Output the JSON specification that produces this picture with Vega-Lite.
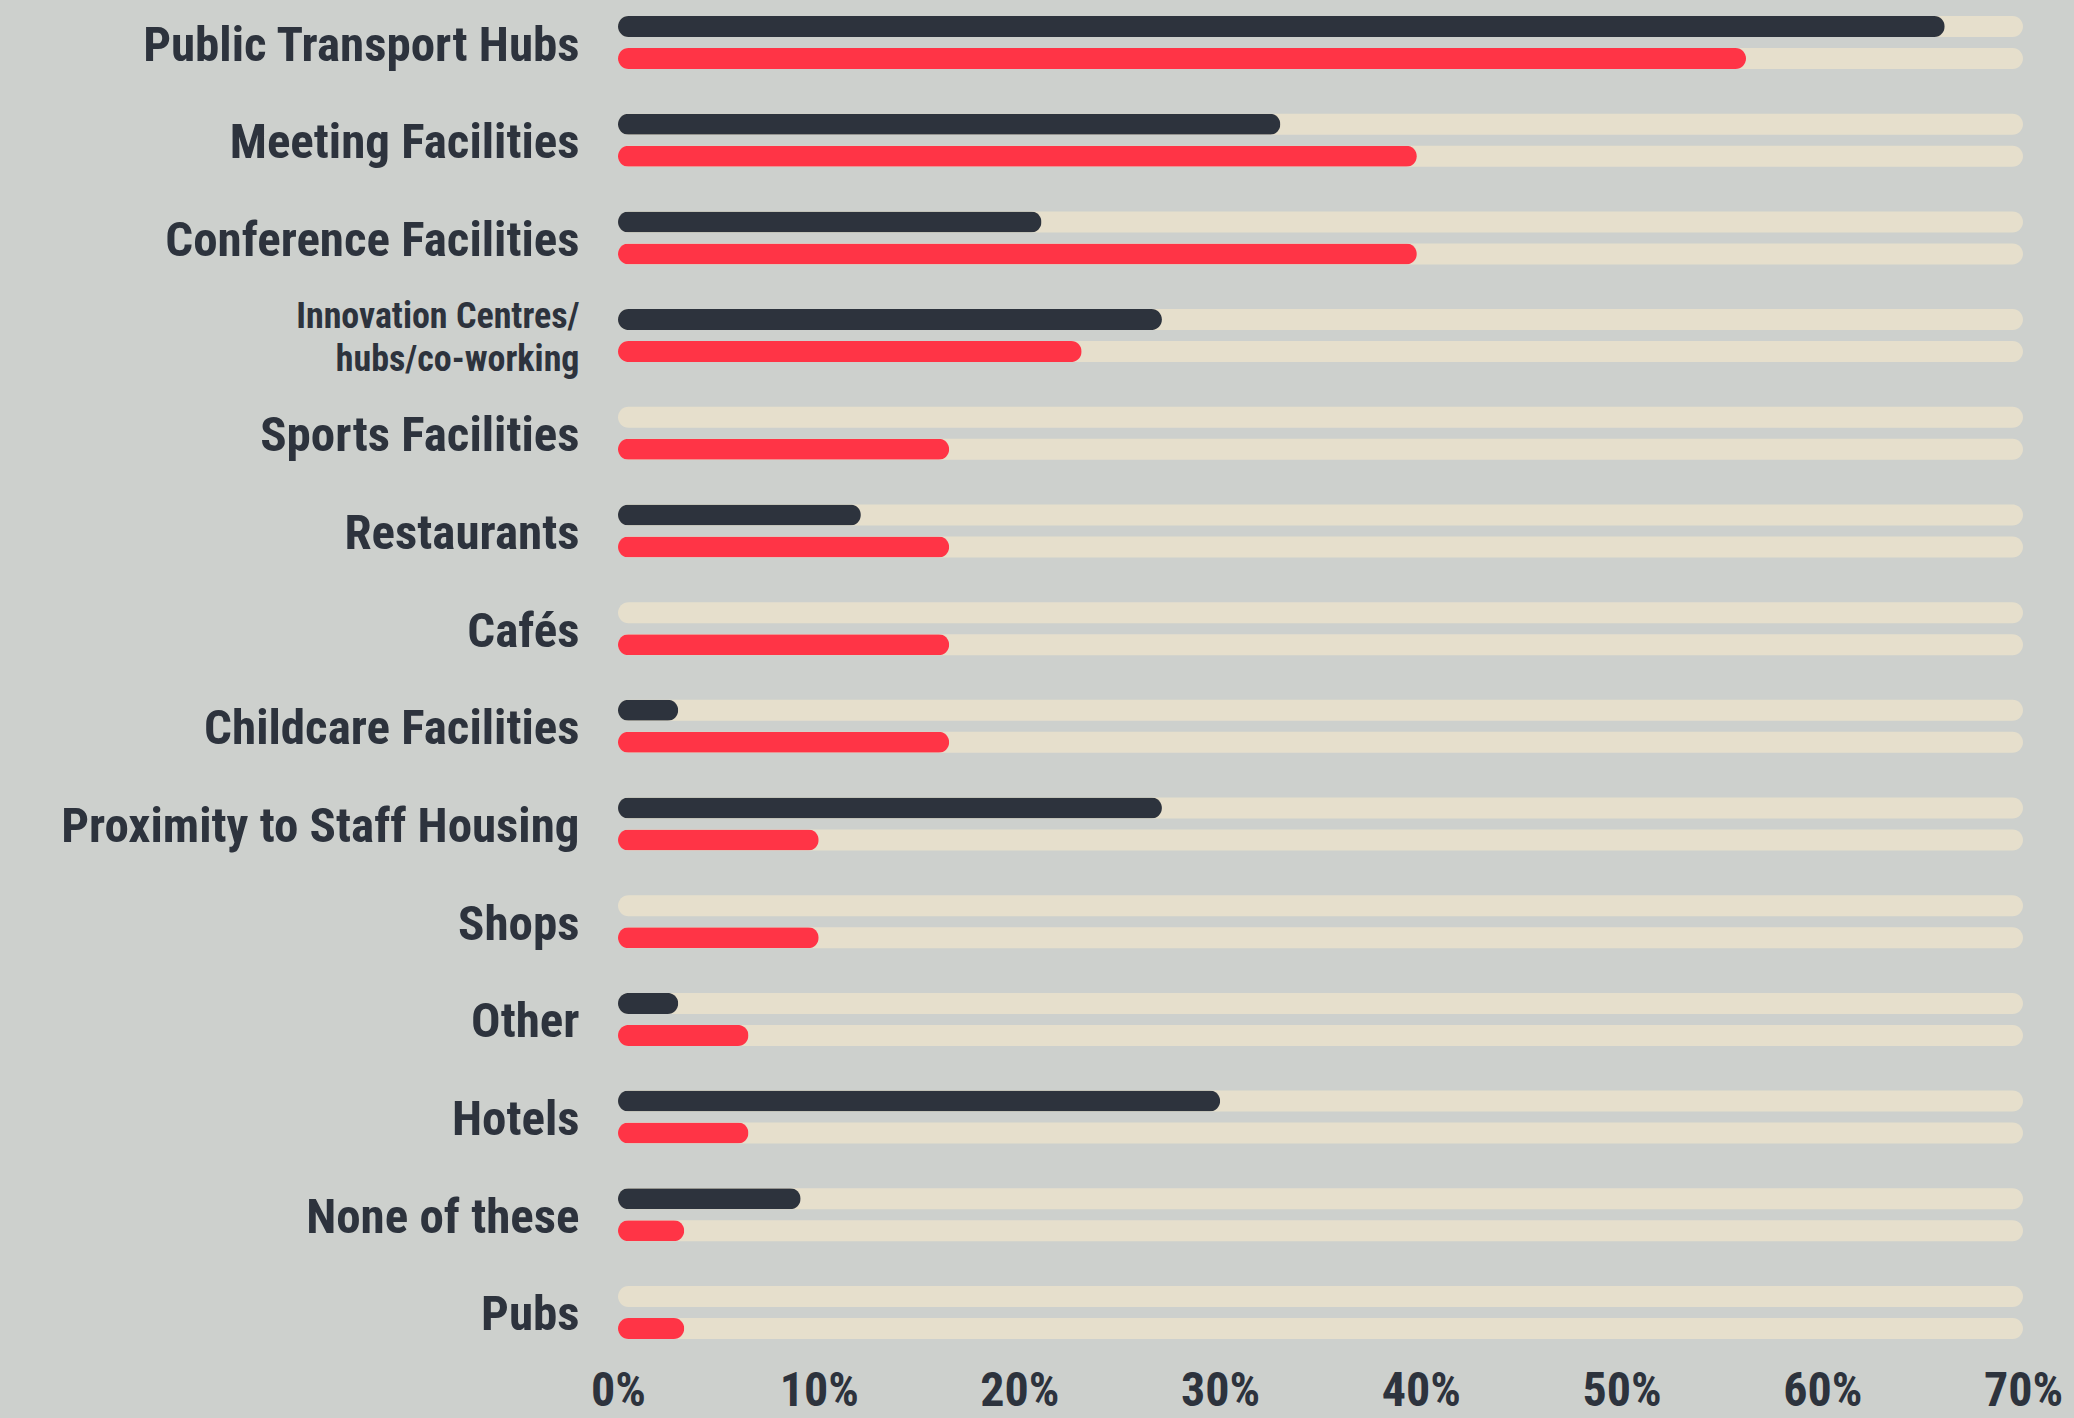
{
  "$schema": "https://vega.github.io/schema/vega-lite/v6.json",
  "autosize": "none",
  "width": 1405,
  "height": 1355,
  "padding": {"left": 618, "top": 0, "right": 51, "bottom": 63},
  "background": "#cdd0cd",
  "config": {"view": {"stroke": null}},
  "data": {"values": [
    {"category": "Public Transport Hubs", "series": "Series 1", "value": 66.1},
    {"category": "Public Transport Hubs", "series": "Series 2", "value": 56.2},
    {"category": "Meeting Facilities", "series": "Series 1", "value": 33.0},
    {"category": "Meeting Facilities", "series": "Series 2", "value": 39.8},
    {"category": "Conference Facilities", "series": "Series 1", "value": 21.1},
    {"category": "Conference Facilities", "series": "Series 2", "value": 39.8},
    {"category": "Innovation Centres/ hubs/co-working", "series": "Series 1", "value": 27.1},
    {"category": "Innovation Centres/ hubs/co-working", "series": "Series 2", "value": 23.1},
    {"category": "Sports Facilities", "series": "Series 1", "value": 0},
    {"category": "Sports Facilities", "series": "Series 2", "value": 16.5},
    {"category": "Restaurants", "series": "Series 1", "value": 12.1},
    {"category": "Restaurants", "series": "Series 2", "value": 16.5},
    {"category": "Cafés", "series": "Series 1", "value": 0},
    {"category": "Cafés", "series": "Series 2", "value": 16.5},
    {"category": "Childcare Facilities", "series": "Series 1", "value": 3.0},
    {"category": "Childcare Facilities", "series": "Series 2", "value": 16.5},
    {"category": "Proximity to Staff Housing", "series": "Series 1", "value": 27.1},
    {"category": "Proximity to Staff Housing", "series": "Series 2", "value": 10.0},
    {"category": "Shops", "series": "Series 1", "value": 0},
    {"category": "Shops", "series": "Series 2", "value": 10.0},
    {"category": "Other", "series": "Series 1", "value": 3.0},
    {"category": "Other", "series": "Series 2", "value": 6.5},
    {"category": "Hotels", "series": "Series 1", "value": 30.0},
    {"category": "Hotels", "series": "Series 2", "value": 6.5},
    {"category": "None of these", "series": "Series 1", "value": 9.1},
    {"category": "None of these", "series": "Series 2", "value": 3.3},
    {"category": "Pubs", "series": "Series 1", "value": 0},
    {"category": "Pubs", "series": "Series 2", "value": 3.3}
  ]},
  "encoding": {
    "y": {
      "field": "category", "type": "nominal", "sort": null,
      "scale": {"paddingInner": 0.4575, "paddingOuter": 0.1638},
      "axis": {
        "title": null, "domain": false, "ticks": false, "tickSize": 0,
        "labelPadding": 39,
        "labelFont": "Liberation Sans Narrow, Roboto Condensed, Arial Narrow, sans-serif",
        "labelFontWeight": "bold",
        "labelColor": "#2d333d",
        "labelFontSize": {"condition": {"test": "indexof(datum.value, 'Innovation') == 0", "value": 36}, "value": 49},
        "labelOffset": {"condition": {"test": "indexof(datum.value, 'Innovation') == 0", "value": -19}, "value": 3},
        "labelLineHeight": 43,
        "labelLimit": 700,
        "labelExpr": "indexof(datum.value, 'Innovation') == 0 ? ['Innovation Centres/', 'hubs/co-working'] : datum.value"
      }
    },
    "yOffset": {
      "field": "series", "type": "nominal", "sort": ["Series 1", "Series 2"],
      "scale": {"paddingInner": 0.34375, "paddingOuter": 0}
    }
  },
  "layer": [
    {
      "mark": {"type": "bar", "cornerRadius": 10.5, "color": "#e6dfcc"},
      "encoding": {
        "x": {"datum": 0, "type": "quantitative"},
        "x2": {"datum": 70}
      }
    },
    {
      "mark": {"type": "bar", "cornerRadius": 10.5},
      "encoding": {
        "x": {
          "field": "value", "type": "quantitative",
          "scale": {"domain": [0, 70], "nice": false},
          "axis": {
            "title": null, "domain": false, "ticks": false, "tickSize": 0, "grid": false,
            "values": [0, 10, 20, 30, 40, 50, 60, 70],
            "labelExpr": "datum.value + '%'",
            "labelFlush": false,
            "labelBaseline": "alphabetic",
            "labelPadding": 50,
            "labelFont": "Liberation Sans Narrow, Roboto Condensed, Arial Narrow, sans-serif",
            "labelFontWeight": "bold",
            "labelFontSize": 48,
            "labelColor": "#2d333d"
          }
        },
        "color": {
          "field": "series", "type": "nominal",
          "scale": {"domain": ["Series 1", "Series 2"], "range": ["#2d333d", "#ff3446"]},
          "legend": null
        }
      }
    }
  ]
}
